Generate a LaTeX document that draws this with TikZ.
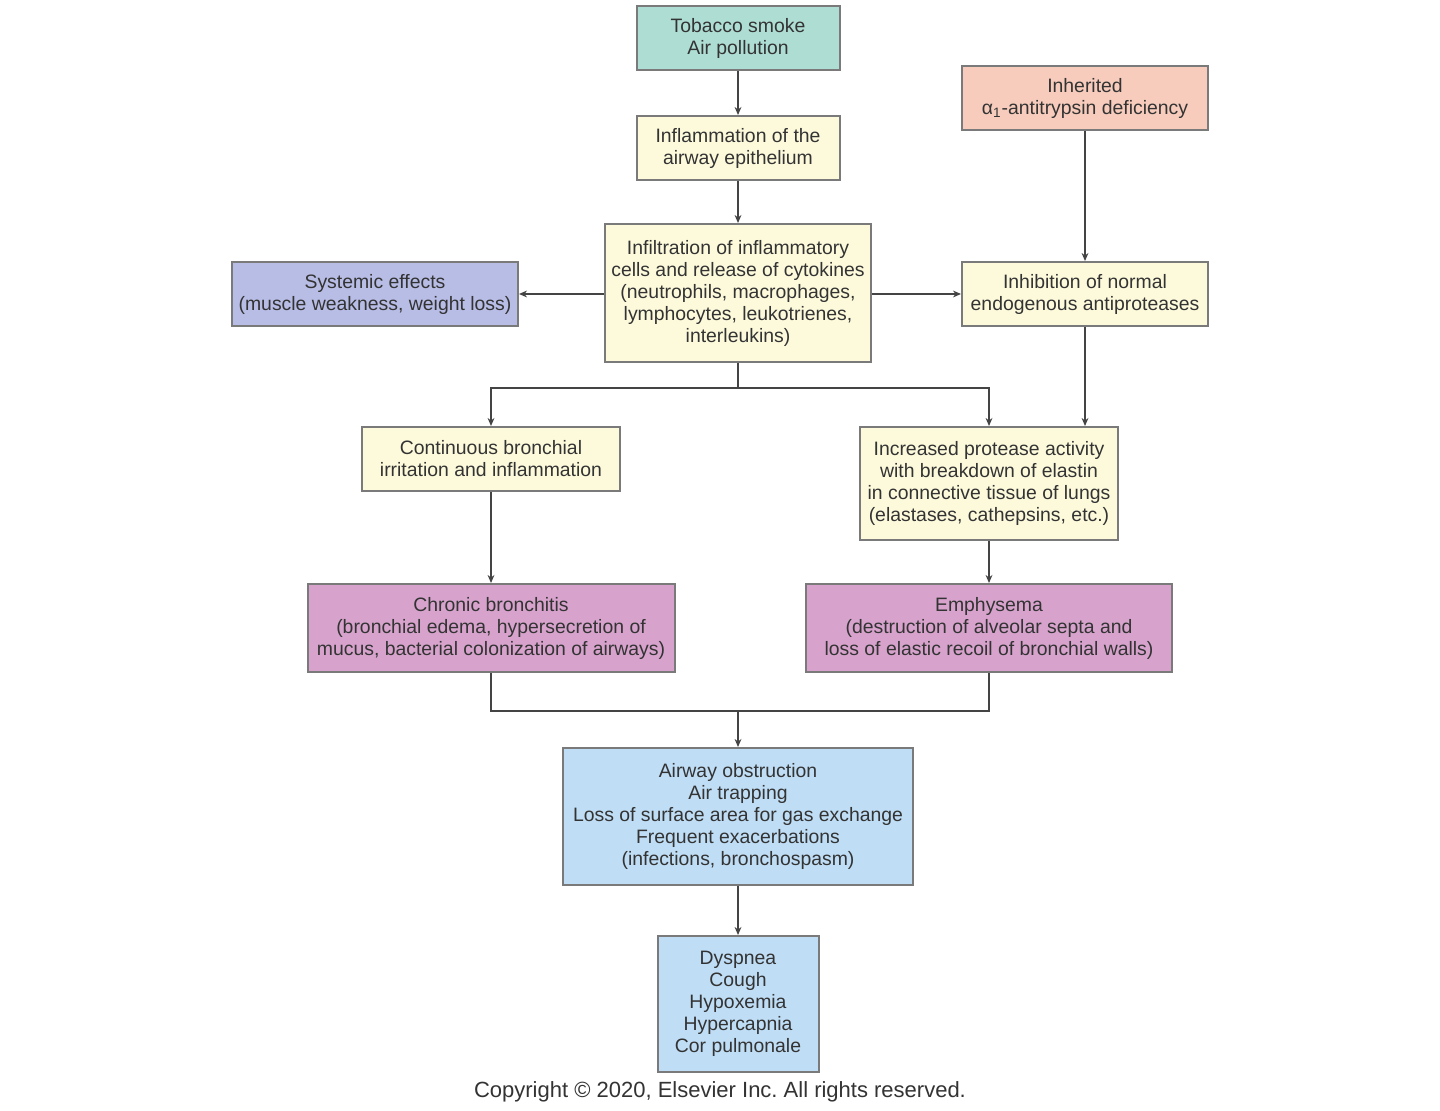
\documentclass[tikz,border=0pt]{standalone}
\usepackage{fontspec}
\setmainfont{Liberation Sans}
\usetikzlibrary{arrows.meta}
\definecolor{cteal}{HTML}{AEDDD3}
\definecolor{cyel}{HTML}{FDFADC}
\definecolor{csalm}{HTML}{F7CCBC}
\definecolor{clav}{HTML}{B8BDE6}
\definecolor{cpink}{HTML}{D7A3CD}
\definecolor{cblue}{HTML}{BFDDF5}
\definecolor{cline}{HTML}{7A7A7A}
\definecolor{ctext}{HTML}{333333}
\definecolor{carrow}{HTML}{444444}
\begin{document}
\begin{tikzpicture}[x=0.5pt,y=-0.5pt,
  box/.style={draw=cline, line width=1pt, inner sep=0pt, align=center,
    text=ctext, font=\fontsize{9.7pt}{11pt}\selectfont},
  conn/.style={draw=carrow, line width=0.7pt},
  arr/.style={conn, -{Stealth[length=4pt,width=3.4pt]}}]
\useasboundingbox (0,0) rectangle (1440,1111);
\fill[white] (0,0) rectangle (1440,1111);

\node[box, fill=cteal, minimum width={203*0.5pt}, minimum height={64*0.5pt}] (tob) at (738,38) {Tobacco smoke\\Air pollution};
\node[box, fill=cyel, minimum width={203*0.5pt}, minimum height={64*0.5pt}] (infl) at (738,148) {Inflammation of the\\airway epithelium};
\node[box, fill=csalm, minimum width={246*0.5pt}, minimum height={64*0.5pt}] (inh) at (1085,98) {Inherited\\{α}\textsubscript{1}-antitrypsin deficiency};
\node[box, fill=cyel, minimum width={266*0.5pt}, minimum height={138*0.5pt}] (infil) at (738,293) {Infiltration of inflammatory\\cells and release of cytokines\\(neutrophils, macrophages,\\lymphocytes, leukotrienes,\\interleukins)};
\node[box, fill=clav, minimum width={286*0.5pt}, minimum height={64*0.5pt}] (sys) at (375,294) {Systemic effects\\(muscle weakness, weight loss)};
\node[box, fill=cyel, minimum width={246*0.5pt}, minimum height={64*0.5pt}] (inhib) at (1085,294) {Inhibition of normal\\endogenous antiproteases};
\node[box, fill=cyel, minimum width={258*0.5pt}, minimum height={64*0.5pt}] (cont) at (491,459) {Continuous bronchial\\irritation and inflammation};
\node[box, fill=cyel, minimum width={258*0.5pt}, minimum height={113*0.5pt}] (incr) at (989,483.5) {Increased protease activity\\with breakdown of elastin\\in connective tissue of lungs\\(elastases, cathepsins, etc.)};
\node[box, fill=cpink, minimum width={367*0.5pt}, minimum height={88*0.5pt}] (chron) at (491,628) {Chronic bronchitis\\(bronchial edema, hypersecretion of\\mucus, bacterial colonization of airways)};
\node[box, fill=cpink, minimum width={366*0.5pt}, minimum height={88*0.5pt}] (emph) at (989,628) {Emphysema\\(destruction of alveolar septa and\\loss of elastic recoil of bronchial walls)};
\node[box, fill=cblue, minimum width={350*0.5pt}, minimum height={137*0.5pt}] (air) at (738,816.5) {Airway obstruction\\Air trapping\\Loss of surface area for gas exchange\\Frequent exacerbations\\(infections, bronchospasm)};
\node[box, fill=cblue, minimum width={161*0.5pt}, minimum height={136*0.5pt}] (dys) at (738,1004) {Dyspnea\\Cough\\Hypoxemia\\Hypercapnia\\Cor pulmonale};
\node[text=ctext, font=\fontsize{11pt}{13pt}\selectfont] (copy) at (720,1092) {Copyright © 2020, Elsevier Inc.\ All rights reserved.};

\coordinate (s1) at (738,388);
\coordinate (s1l) at (491,388);
\coordinate (s1r) at (989,388);
\coordinate (j1) at (738,711);
\coordinate (j1l) at (491,711);
\coordinate (j1r) at (989,711);

\draw[arr] (tob) -- (infl);
\draw[arr] (infl) -- (infil);
\draw[arr] (infil.west |- sys) -- (sys);
\draw[arr] (infil.east |- inhib) -- (inhib);
\draw[arr] (inh) -- (inhib);
\draw[arr] (inhib.south) -- (inhib.south |- incr.north);
\draw[conn] (infil.south) -- (s1);
\draw[arr] (s1) -- (s1l) -- (cont.north);
\draw[arr] (s1) -- (s1r) -- (incr.north -| s1r);
\draw[arr] (cont) -- (chron);
\draw[arr] (incr) -- (emph);
\draw[conn] (chron.south -| j1l) -- (j1l) -- (j1r) -- (emph.south -| j1r);
\draw[arr] (j1) -- (air);
\draw[arr] (air) -- (dys);
\end{tikzpicture}
\end{document}
